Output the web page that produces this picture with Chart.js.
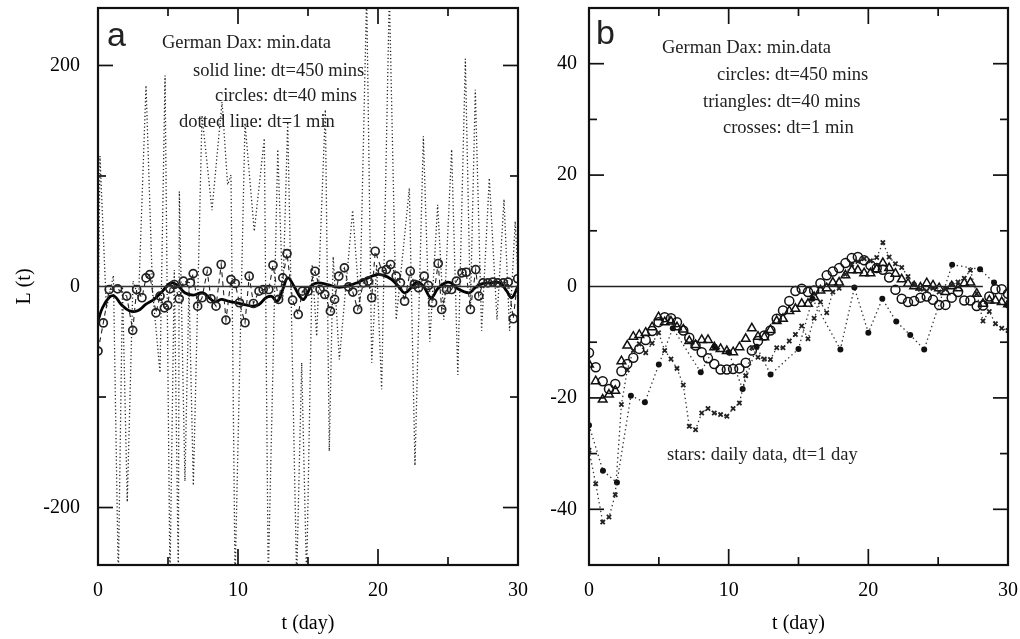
<!DOCTYPE html>
<html><head><meta charset="utf-8">
<script src="https://cdn.jsdelivr.net/npm/chart.js@4.4.1/dist/chart.umd.min.js"></script>
<style>
html,body{margin:0;padding:0;background:#fff;overflow:hidden;}
#cA{position:absolute;left:0;top:0;}
#cB{position:absolute;left:530px;top:0;}
</style></head><body>
<canvas id="cA" width="530" height="639"></canvas>
<canvas id="cB" width="490" height="639"></canvas>
<script>
// ---------- Panel a data ----------
const xTicksAB = [0, 10, 20, 30];
const yTicksA = [-200, 0, 200];
const yTicksB = [-40, -20, 0, 20, 40];

// dotted line: dt = 1 min
const tA1 = [0,0.14,0.6,1.1,1.45,1.75,2.09,2.5,2.9,3.43,3.9,4.43,4.79,5.14,5.45,5.74,5.81,6.21,6.5,6.81,7.43,8.14,8.86,9.26,9.5,9.79,10.5,11.16,11.88,12.16,12.84,13.2,13.55,14.19,14.55,14.9,15.3,15.62,16.24,16.52,16.8,17.24,18.19,18.7,19.19,19.55,19.9,20.26,20.81,21.3,22.24,22.64,23.24,23.7,24.26,24.7,25.26,25.7,26.24,26.6,26.95,27.4,27.95,28.5,29.0,29.4,29.8,30];
const vA1 = [-58,118,-20,10,-265,0,-195,5,-10,182,-5,-78,191,-265,15,-265,86,-176,0,-180,155,69,167,92,101,-265,148,50,134,-265,124,-10,149,-265,-69,-265,20,-45,160,-149,27,-66,69,-20,265,-69,20,-93,265,-30,89,-162,136,-50,74,-30,124,-80,206,-20,178,-40,98,-30,79,-40,59,10];

// circles: dt = 40 mins
const tA40 = [0,0.38,0.8,1.4,2.05,2.48,2.76,3.14,3.43,3.7,4.14,4.43,4.74,4.98,5.14,5.45,5.8,6.1,6.6,6.8,7.12,7.43,7.8,8.07,8.43,8.8,9.14,9.5,9.8,10.1,10.5,10.8,11.1,11.5,11.8,12.2,12.5,12.9,13.2,13.5,13.9,14.3,14.6,15.0,15.5,15.86,16.2,16.6,16.9,17.2,17.6,17.9,18.2,18.55,18.95,19.3,19.55,19.8,20.3,20.6,20.9,21.3,21.6,21.9,22.3,22.6,22.9,23.3,23.6,23.9,24.3,24.55,24.9,25.25,25.6,26.0,26.3,26.6,26.98,27.2,27.5,27.85,28.2,28.55,28.95,29.3,29.66,29.98];
const vA40 = [-58.4,-33,-2.7,-2.1,-8.7,-39.7,-2.7,-10.2,7.8,10.8,-23.8,-8.7,-19.3,-17,-2.1,1.8,-11.1,4.8,3.3,11.7,-17.8,-10.2,13.8,-11.1,-17.8,19.9,-30.4,6.3,2.7,-14.7,-32.8,9.3,-15.4,-4.2,-2.7,-2.7,19.3,-11.7,7.8,29.8,-12.4,-25.3,-4.2,-4.2,13.8,-2.7,-7.2,-22.3,-11.7,9.3,16.9,-0.3,-5,-20.8,3.3,4.8,-10.2,31.9,13.8,15.3,19.9,9.3,3.3,-13.3,13.8,2,-1.2,9.3,0.9,-14.7,20.8,-20.8,-2.7,-2.7,4.8,12.4,12.9,-20.8,15.3,-8.7,3.3,3.3,4,3.3,3.3,4,-29.2,7];

// solid line: dt = 450 mins
const tA450 = [0,0.33,0.8,1.17,1.64,2.24,2.83,3.43,4.0,4.6,5.2,5.7,6.2,6.8,7.5,8.07,8.4,8.8,9.3,9.86,10.45,11.05,11.5,12.0,12.4,12.8,13.2,13.55,14.0,14.4,14.7,15.26,15.7,16.4,17.1,17.8,18.6,19.3,19.9,20.4,20.98,21.45,21.9,22.36,22.8,23.24,23.8,24.26,24.8,25.2,25.7,26.5,26.93,27.4,28.1,28.7,29.2,29.55,30];
const vA450 = [-31,-19,-10,-8.7,-16,-22,-22,-16,-11.7,-4.2,3.3,0.9,-5.7,-7.8,-5.7,-11.7,-14,-11.7,-13.3,-14.7,-16.3,-17.8,-16.3,-10.2,-9,-13.3,-2.7,7.8,0.3,-8.7,-11.7,0.9,3.3,1.8,-0.6,0.3,3.9,7.8,10.8,10,6.3,0.3,-5.7,-1.2,4.2,0.3,-10.2,-2.1,3.3,3.3,-2.1,-5.7,-1.2,2.4,3.3,3.3,-4.2,-10.2,0.3];

// ---------- Panel b data ----------
const tB = [0,0.48,0.98,1.43,1.88,2.32,2.74,3.17,3.6,4.06,4.52,4.98,5.42,5.87,6.3,6.75,7.18,7.63,8.07,8.52,8.97,9.42,9.87,10.32,10.77,11.22,11.66,12.1,12.55,12.99,13.44,13.89,14.34,14.78,15.23,15.68,16.12,16.57,17.02,17.46,17.91,18.36,18.81,19.25,19.7,20.15,20.6,21.04,21.49,21.94,22.39,22.84,23.28,23.73,24.18,24.63,25.07,25.52,25.97,26.42,26.87,27.31,27.76,28.21,28.66,29.1,29.55,30];
// circles: dt = 450 mins
const vB450 = [-11.9,-14.5,-17.0,-18.4,-17.5,-15.2,-13.9,-12.8,-11.2,-9.6,-8.0,-6.4,-5.5,-5.7,-6.4,-7.9,-9.2,-10.6,-11.8,-12.9,-13.9,-14.9,-14.9,-14.8,-14.7,-13.7,-11.5,-9.8,-8.8,-7.9,-5.8,-4.3,-2.6,-0.8,-0.4,-1.0,-0.7,0.6,2.0,2.7,3.3,4.2,5.1,5.3,4.7,3.8,3.3,3.0,1.6,-0.6,-2.2,-2.8,-2.6,-2.0,-1.8,-2.4,-3.3,-3.3,-2.0,-1.0,-2.5,-2.5,-3.5,-3.4,-1.8,-0.5,-0.5,-1.3];
// triangles: dt = 40 mins
const vB40 = [-14.0,-17.0,-20.3,-19.4,-18.7,-13.4,-10.6,-9.0,-8.7,-8.3,-7.3,-5.5,-6.4,-6.3,-7.3,-7.7,-9.8,-10.5,-9.6,-9.6,-10.9,-11.2,-11.6,-11.8,-10.9,-9.4,-7.5,-9.0,-9.1,-7.8,-6.2,-5.8,-4.4,-4.0,-3.1,-3.1,-1.9,-0.7,-0.3,0.7,0.7,2.0,2.9,2.9,2.4,2.4,3.1,4.2,3.3,2.3,1.3,0.5,0.05,-0.2,0.6,0.2,-0.3,-1.0,0.05,-0.3,0.6,0.7,-1.3,-3.1,-2.5,-2.5,-2.8,-3.2];
// crosses: dt = 1 min
const vB1 = [-29.4,-35.4,-42.3,-41.4,-37.4,-21.2,-15,-11.5,-10.3,-11.9,-10.2,-8.3,-11.5,-13.0,-14.7,-17.7,-25.1,-25.7,-22.7,-21.9,-22.7,-23.0,-23.3,-21.9,-20.9,-16.0,-11,-12.7,-13.0,-13.1,-11,-11,-9.8,-8.6,-7.1,-9.4,-5.7,-2.8,-4.7,-1.0,-0.3,2.2,4.0,4.5,5.0,4.6,5.2,7.9,5.3,4.1,3.4,1.8,0.3,-0.5,-0.8,-0.3,-1.0,-0.5,0.3,0.8,1.5,2.9,-1.3,-6.2,-4.5,-6.7,-7.5,-7.9];
// stars: daily data, dt = 1 day
const tDaily = [0,1,2,3,4,5,6,8,9,10,11,12,13,15,16,18,19,20,21,22,23,24,26,28,29,30];
const vDaily = [-24.9,-33.1,-35.2,-19.6,-20.8,-14.0,-7.5,-15.4,-10.8,-11.8,-18.4,-10.8,-15.8,-11.2,-2.2,-11.3,-0.2,-8.3,-2.2,-6.3,-8.7,-11.3,3.9,3.1,0.7,-3.4];

// zero reference lines
const zeroA = [0, 30];
const zeroB = [0, 28.2];

// ---------- helpers ----------
const pts = (t, v) => t.map((x, i) => ({x: x, y: v[i]}));
const SERIF = '"Liberation Serif", "Times New Roman", serif';
const SANS = '"Liberation Sans", Arial, sans-serif';

const deco = {
  id: 'deco',
  afterDatasetsDraw(chart, args, o) {
    const {ctx, chartArea: a, scales: {x, y}} = chart;
    ctx.save();
    ctx.strokeStyle = '#111';
    ctx.lineWidth = 1.7;
    const seg = (x1, y1, x2, y2) => { ctx.beginPath(); ctx.moveTo(x1, y1); ctx.lineTo(x2, y2); ctx.stroke(); };
    o.xTicks.forEach(([v, len]) => { const p = x.getPixelForValue(v); seg(p, a.bottom, p, a.bottom - len); seg(p, a.top, p, a.top + len); });
    o.yTicks.forEach(([v, len]) => { const p = y.getPixelForValue(v); seg(a.left, p, a.left + len, p); seg(a.right, p, a.right - len, p); });
    ctx.lineWidth = 2.2;
    ctx.strokeRect(a.left, a.top, a.right - a.left, a.bottom - a.top);
    ctx.fillStyle = '#222';
    ctx.textBaseline = 'alphabetic';
    ctx.textAlign = 'left';
    o.texts.forEach(t => { ctx.font = t.font; ctx.fillText(t.s, t.x - o.offX, t.y); });
    ctx.restore();
  }
};

function makeScales(cfg) {
  return {
    x: {
      type: 'linear', min: 0, max: 30,
      grid: {display: false, drawTicks: false}, border: {display: false},
      afterBuildTicks: s => { s.ticks = xTicksAB.map(v => ({value: v})); },
      ticks: {padding: 14, color: '#000', font: {family: SERIF, size: 20}, maxRotation: 0, autoSkip: false},
      title: {display: true, text: 't (day)', color: '#000', font: {family: SERIF, size: 20}, padding: {top: 0, bottom: 3}},
      afterFit: s => { s.height = 74; s.paddingLeft = 0; s.paddingRight = 0; s.paddingTop = 0; s.paddingBottom = 0; }
    },
    y: {
      type: 'linear', min: cfg.ymin, max: cfg.ymax,
      grid: {display: false, drawTicks: false}, border: {display: false},
      afterBuildTicks: s => { s.ticks = cfg.yTicks.map(v => ({value: v})); },
      ticks: {padding: cfg.yPad, color: '#000', font: {family: SERIF, size: 20}, autoSkip: false},
      title: {display: !!cfg.yTitle, text: cfg.yTitle || '', color: '#000', font: {family: SERIF, size: 20}, padding: {top: 13, bottom: 0}},
      afterFit: s => { s.width = cfg.yWidth; s.paddingLeft = 0; s.paddingRight = 0; s.paddingTop = 0; s.paddingBottom = 0; }
    }
  };
}

const common = {
  responsive: false, animation: false, events: [],
  layout: {padding: {top: 8, right: 12, left: 0, bottom: 0}},
};

// ---------- Chart a ----------
new Chart(document.getElementById('cA'), {
  type: 'scatter',
  data: {datasets: [
    {data: pts(zeroA, [0, 0]), showLine: true, borderColor: '#333', borderWidth: 1.5, pointRadius: 0},
    {data: pts(tA1, vA1), showLine: true, borderColor: '#222', borderWidth: 1.3, borderDash: [1.2, 2.4], pointRadius: 0, tension: 0},
    {data: pts(tA40, vA40), showLine: true, borderColor: '#222', borderWidth: 1.1, borderDash: [5, 4], pointStyle: 'circle', pointRadius: 4, pointBorderWidth: 1.7, pointBorderColor: '#222', pointBackgroundColor: 'rgba(0,0,0,0)'},
    {data: pts(tA450, vA450), showLine: true, borderColor: '#000', borderWidth: 2.8, pointRadius: 0, tension: 0.4}
  ]},
  options: Object.assign({}, common, {
    scales: makeScales({ymin: -252, ymax: 252, yTicks: yTicksA, yPad: 18, yWidth: 98, yTitle: 'L (t)'}),
    plugins: {legend: {display: false}, tooltip: {enabled: false},
      deco: {
        offX: 0,
        xTicks: [[5, 8], [10, 16], [15, 8], [20, 16], [25, 8]],
        yTicks: [[-200, 15], [-100, 8], [100, 8], [200, 15]],
        texts: [
          {s: 'a', x: 107, y: 46, font: '34px ' + SANS},
          {s: 'German Dax: min.data', x: 162, y: 48, font: '18.5px ' + SERIF},
          {s: 'solid line: dt=450 mins', x: 193, y: 76, font: '18.5px ' + SERIF},
          {s: 'circles: dt=40 mins', x: 215, y: 101, font: '18.5px ' + SERIF},
          {s: 'dotted line: dt=1 min', x: 179, y: 127, font: '18.5px ' + SERIF}
        ]
      }}
  }),
  plugins: [deco]
});

// ---------- Chart b ----------
new Chart(document.getElementById('cB'), {
  type: 'scatter',
  data: {datasets: [
    {data: pts(zeroB, [0, 0]), showLine: true, borderColor: '#222', borderWidth: 1.5, pointRadius: 0},
    {data: pts(tB, vB1), showLine: true, borderColor: '#333', borderWidth: 1.3, borderDash: [1.4, 3], pointStyle: 'crossRot', pointRadius: 3, pointBorderWidth: 1.8, pointBorderColor: '#222'},
    {data: pts(tDaily, vDaily), showLine: true, borderColor: '#333', borderWidth: 1.3, borderDash: [1.4, 3], pointStyle: 'circle', pointRadius: 3, pointBorderWidth: 0, pointBackgroundColor: '#111'},
    {data: pts(tB, vB450), showLine: false, pointStyle: 'circle', pointRadius: 4.5, pointBorderWidth: 1.5, pointBorderColor: '#111', pointBackgroundColor: 'rgba(0,0,0,0)'},
    {data: pts(tB, vB40), showLine: false, pointStyle: 'triangle', pointRadius: 5, pointBorderWidth: 1.5, pointBorderColor: '#111', pointBackgroundColor: 'rgba(0,0,0,0)'}
  ]},
  options: Object.assign({}, common, {
    scales: makeScales({ymin: -50, ymax: 50, yTicks: yTicksB, yPad: 12, yWidth: 59, yTitle: ''}),
    plugins: {legend: {display: false}, tooltip: {enabled: false},
      deco: {
        offX: 530,
        xTicks: [[5, 8], [10, 16], [15, 8], [20, 16], [25, 8]],
        yTicks: [[-40, 15], [-30, 8], [-20, 15], [-10, 8], [10, 8], [20, 15], [30, 8], [40, 15]],
        texts: [
          {s: 'b', x: 596, y: 44, font: '34px ' + SANS},
          {s: 'German Dax: min.data', x: 662, y: 53, font: '18.5px ' + SERIF},
          {s: 'circles: dt=450 mins', x: 717, y: 80, font: '18.5px ' + SERIF},
          {s: 'triangles: dt=40 mins', x: 703, y: 107, font: '18.5px ' + SERIF},
          {s: 'crosses: dt=1 min', x: 723, y: 133, font: '18.5px ' + SERIF},
          {s: 'stars: daily data, dt=1 day', x: 667, y: 460, font: '18.5px ' + SERIF}
        ]
      }}
  }),
  plugins: [deco]
});
</script>
</body></html>
